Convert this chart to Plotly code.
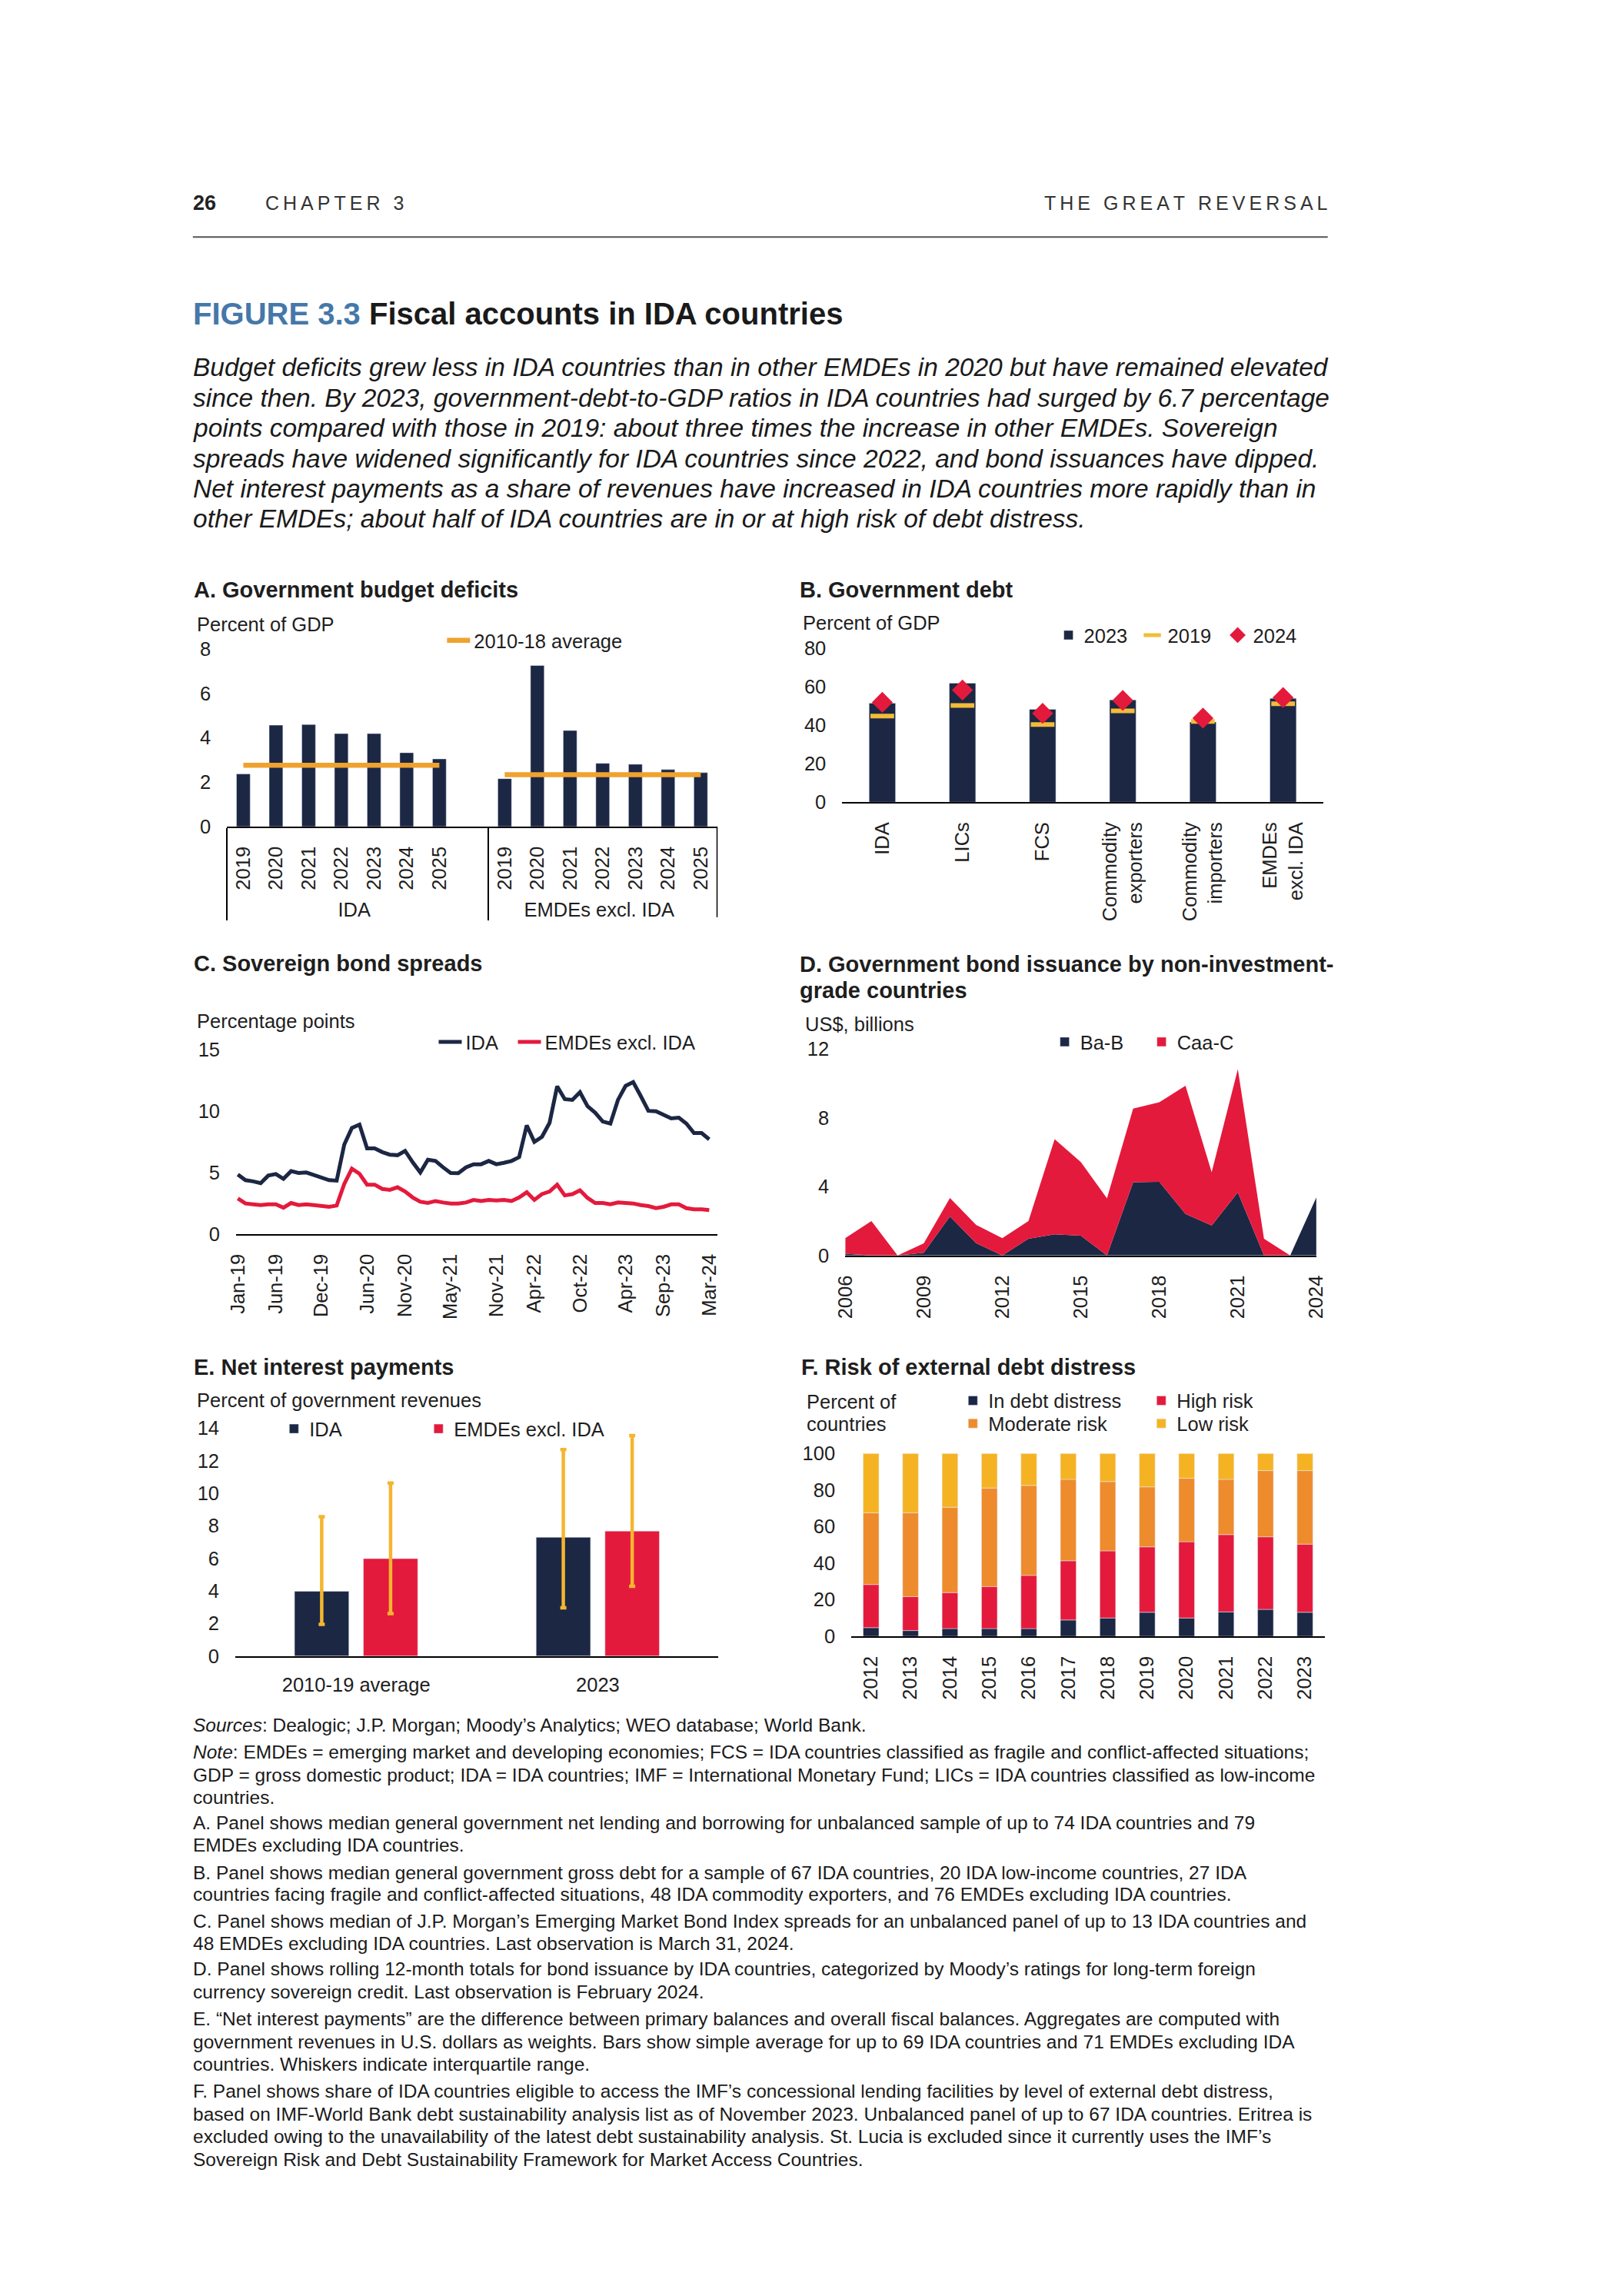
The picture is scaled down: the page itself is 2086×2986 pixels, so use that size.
import numpy as np
import pandas as pd
import plotly.graph_objects as go

W, H = 2086, 2986


def fx(x):
    return x / W


def fy(y):
    return 1 - y / H


FONT = "Liberation Sans, Arial, Helvetica, sans-serif"
TXT = "#1E1E1E"
NAVY = "#1C2744"
RED = "#E41A3C"
ORANGE = "#EE8B2D"
YELLOW = "#F5B324"
AVG = "#EFA22E"
DASH = "#F2BC3A"
WHISK = "#F4B530"
BLUE = "#4578A8"
FS = 25.5

# ---------------- Panel A: Government budget deficits ----------------
years_a = ["2019", "2020", "2021", "2022", "2023", "2024", "2025"]
groups_a = ["IDA", "EMDEs excl. IDA"]
deficit_ida = [2.37, 4.57, 4.60, 4.19, 4.19, 3.33, 3.05]
deficit_emde = [2.16, 7.26, 4.33, 2.85, 2.81, 2.57, 2.43]
avg_ida = 2.76
avg_emde = 2.34

# ---------------- Panel B: Government debt ----------------
cats_b = ["IDA", "LICs", "FCS", "Commodity<br>exporters", "Commodity<br>importers", "EMDEs<br>excl. IDA"]
debt_2023 = [51.5, 61.9, 48.3, 53.2, 41.7, 54.0]
debt_2019 = [44.8, 50.3, 40.4, 47.5, 42.0, 51.2]
debt_2024 = [51.9, 58.3, 46.2, 52.9, 43.7, 54.4]

# ---------------- Panel C: Sovereign bond spreads ----------------
months_c = list(pd.date_range("2019-01-01", periods=63, freq="MS").strftime("%b-%y"))
ticks_c = ["Jan-19", "Jun-19", "Dec-19", "Jun-20", "Nov-20", "May-21", "Nov-21",
           "Apr-22", "Oct-22", "Apr-23", "Sep-23", "Mar-24"]
spread_ida = [4.85, 4.39, 4.29, 4.14, 4.76, 4.89, 4.50, 5.12, 4.97, 5.01, 4.81, 4.60, 4.39,
              4.35, 7.29, 8.64, 8.91, 6.98, 6.98, 6.67, 6.46, 6.42, 6.77, 5.84, 5.01, 6.05,
              5.95, 5.43, 4.97, 4.95, 5.43, 5.68, 5.68, 5.95, 5.68, 5.80, 5.95, 6.26, 8.85,
              7.50, 7.91, 9.05, 12.02, 10.98, 10.92, 11.54, 10.40, 9.88, 9.16, 8.99, 10.92,
              12.06, 12.37, 11.23, 10.03, 9.99, 9.74, 9.41, 9.47, 8.99, 8.22, 8.22, 7.71]
spread_emde = [2.90, 2.49, 2.42, 2.36, 2.42, 2.42, 2.15, 2.53, 2.36, 2.42, 2.36, 2.28, 2.22,
               2.32, 4.08, 5.32, 4.91, 4.02, 4.02, 3.67, 3.60, 3.81, 3.46, 2.98, 2.63, 2.53,
               2.69, 2.57, 2.49, 2.49, 2.57, 2.78, 2.69, 2.78, 2.73, 2.78, 2.69, 2.98, 3.40,
               2.78, 3.25, 3.46, 4.02, 3.15, 3.25, 3.56, 2.94, 2.53, 2.53, 2.42, 2.57, 2.53,
               2.49, 2.36, 2.28, 2.11, 2.22, 2.42, 2.42, 2.11, 2.01, 2.01, 1.95]

# ---------------- Panel D: Bond issuance ----------------
years_d = list(range(2006, 2025))
issue_bab = [0.10, 0.0, 0.0, 0.15, 2.26, 0.71, 0.0, 0.97, 1.23, 1.15, 0.0, 4.25, 4.28,
             2.41, 1.74, 3.66, 0.0, 0.0, 3.37]
issue_caac = [0.90, 2.00, 0.0, 0.55, 1.08, 1.06, 1.00, 1.03, 5.53, 4.28, 3.32, 4.28, 4.62,
              7.45, 3.10, 7.16, 0.97, 0.0, 0.0]

# ---------------- Panel E: Net interest payments ----------------
cats_e = ["2010-19 average", "2023"]
nip_ida = [3.98, 7.30]
nip_ida_p25 = [1.95, 2.97]
nip_ida_p75 = [8.57, 12.69]
nip_emde = [5.99, 7.68]
nip_emde_p25 = [2.61, 4.29]
nip_emde_p75 = [10.64, 13.55]

# ---------------- Panel F: Risk of external debt distress ----------------
years_f = [str(y) for y in range(2012, 2024)]
risk_distress = [4.7, 3.1, 4.2, 4.2, 4.2, 8.9, 10.0, 13.1, 10.0, 13.3, 14.7, 13.1]
risk_high = [23.6, 18.6, 19.7, 23.0, 29.1, 32.4, 36.7, 35.8, 41.7, 42.3, 39.7, 37.3]
risk_moderate = [39.2, 45.8, 46.7, 53.9, 49.2, 44.5, 37.9, 32.8, 34.7, 30.2, 36.2, 40.2]
risk_low = [32.5, 32.5, 29.4, 18.9, 17.5, 14.2, 15.4, 18.3, 13.6, 14.2, 9.4, 9.4]

fig = go.Figure()

# ---- A ----
xa_groups = [groups_a[0]] * (len(years_a) + 1) + [groups_a[1]] * len(years_a)
xa_years = years_a + [" "] + years_a
ya = deficit_ida + [None] + deficit_emde
fig.add_trace(go.Bar(x=[xa_groups, xa_years], y=ya, marker_color=NAVY, width=0.42,
                     xaxis="x", yaxis="y", showlegend=False, hoverinfo="skip"))
fig.add_trace(go.Scatter(x=[[groups_a[0]] * 2, [years_a[0], years_a[-1]]], y=[avg_ida, avg_ida],
                         mode="lines", line=dict(color=AVG, width=6.5), name="2010-18 average",
                         xaxis="x", yaxis="y", legend="legend"))
fig.add_trace(go.Scatter(x=[[groups_a[1]] * 2, [years_a[0], years_a[-1]]], y=[avg_emde, avg_emde],
                         mode="lines", line=dict(color=AVG, width=6.5), showlegend=False,
                         xaxis="x", yaxis="y"))

# ---- B ----
fig.add_trace(go.Bar(x=cats_b, y=debt_2023, width=0.33, marker_color=NAVY, name="2023",
                     xaxis="x2", yaxis="y2", legend="legend2", legendwidth=64))
fig.add_trace(go.Scatter(x=cats_b, y=debt_2019, mode="markers", name="2019",
                         marker=dict(symbol="line-ew", size=22, color=DASH,
                                     line=dict(width=6, color=DASH)),
                         xaxis="x2", yaxis="y2", legend="legend2", legendwidth=66))
fig.add_trace(go.Scatter(x=cats_b, y=debt_2024, mode="markers", name="2024",
                         marker=dict(symbol="diamond", size=21, color=RED, line=dict(width=0)),
                         xaxis="x2", yaxis="y2", legend="legend2", legendwidth=64))

# ---- C ----
fig.add_trace(go.Scatter(x=months_c, y=spread_ida, mode="lines", name="IDA",
                         line=dict(color=NAVY, width=5), xaxis="x3", yaxis="y3",
                         legend="legend3", legendwidth=58))
fig.add_trace(go.Scatter(x=months_c, y=spread_emde, mode="lines", name="EMDEs excl. IDA",
                         line=dict(color=RED, width=5), xaxis="x3", yaxis="y3",
                         legend="legend3", legendwidth=230))

# ---- D ----
fig.add_trace(go.Scatter(x=years_d, y=issue_bab, stackgroup="d", mode="none", fillcolor=NAVY,
                         name="Ba-B", showlegend=False, xaxis="x4", yaxis="y4"))
fig.add_trace(go.Scatter(x=years_d, y=issue_caac, stackgroup="d", mode="none", fillcolor=RED,
                         name="Caa-C", showlegend=False, xaxis="x4", yaxis="y4"))
# legend swatches (square) for the area series
fig.add_trace(go.Bar(x=[None], y=[None], marker_color=NAVY, name="Ba-B",
                     xaxis="x4", yaxis="y4", legend="legend4", legendwidth=81))
fig.add_trace(go.Bar(x=[None], y=[None], marker_color=RED, name="Caa-C",
                     xaxis="x4", yaxis="y4", legend="legend4", legendwidth=100))


# ---- E ----
def whisk(mid, lo, hi):
    mid, lo, hi = np.array(mid), np.array(lo), np.array(hi)
    return dict(type="data", symmetric=False, array=list(hi - mid), arrayminus=list(mid - lo),
                color=WHISK, thickness=4.5, width=4)


fig.add_trace(go.Bar(x=cats_e, y=nip_ida, width=0.225, offset=-0.255, marker_color=NAVY,
                     error_y=whisk(nip_ida, nip_ida_p25, nip_ida_p75), name="IDA",
                     xaxis="x5", yaxis="y5", legend="legend5", legendwidth=143))
fig.add_trace(go.Bar(x=cats_e, y=nip_emde, width=0.225, offset=0.03, marker_color=RED,
                     error_y=whisk(nip_emde, nip_emde_p25, nip_emde_p75), name="EMDEs excl. IDA",
                     xaxis="x5", yaxis="y5", legend="legend5", legendwidth=230))

# ---- F ----
f_series = [("In debt distress", risk_distress, NAVY, "legend6", 200),
            ("High risk", risk_high, RED, "legend6", 130),
            ("Moderate risk", risk_moderate, ORANGE, "legend7", 200),
            ("Low risk", risk_low, YELLOW, "legend7", 130)]
base = np.zeros(len(years_f))
for name, vals, col, lg, lw in f_series:
    fig.add_trace(go.Bar(x=years_f, y=vals, base=list(base), width=0.4, marker_color=col,
                         name=name, xaxis="x6", yaxis="y6", legend=lg, legendwidth=lw))
    base = base + np.array(vals)

# ---------------- axes ----------------
tickfont = dict(family=FONT, size=FS, color=TXT)


def xax(x0, x1, anchor, **kw):
    d = dict(domain=[fx(x0), fx(x1)], anchor=anchor, showline=True, linecolor="black",
             linewidth=1.5, ticks="", showgrid=False, zeroline=False, tickfont=tickfont,
             ticklabelstandoff=14, fixedrange=True)
    d.update(kw)
    return d


def yax(y_top, y_bot, anchor, rng, dtick):
    return dict(domain=[fy(y_bot), fy(y_top)], anchor=anchor, range=rng, dtick=dtick,
                showline=False, ticks="", showgrid=False, zeroline=False, tickfont=tickfont,
                ticklabelstandoff=20, fixedrange=True)


layout = dict(
    width=W, height=H, autosize=False,
    margin=dict(l=0, r=0, t=0, b=0, pad=0),
    paper_bgcolor="white", plot_bgcolor="white",
    barmode="overlay",
    font=dict(family=FONT, size=FS, color=TXT),
    xaxis=xax(284, 930, "y", type="multicategory", tickangle=-90,
              showdividers=True, dividercolor="black", dividerwidth=1.5),
    yaxis=yax(838, 1071, "x", [0, 8], 2),
    xaxis2=xax(1095, 1729, "y2", type="category", tickangle=-90),
    yaxis2=yax(837, 1039, "x2", [0, 80], 20),
    xaxis3=xax(296, 930, "y3", type="category", tickangle=-90,
               tickmode="array", tickvals=ticks_c, ticktext=ticks_c,
               range=[-0.23, len(months_c) - 1 + 1.03]),
    yaxis3=yax(1364, 1606, "x3", [0, 15], 5),
    xaxis4=xax(1099, 1720, "y4", type="linear", tickangle=-90,
               tickmode="array", tickvals=years_d[::3], ticktext=[str(y) for y in years_d[::3]],
               range=[years_d[0], years_d[-1]]),
    yaxis4=yax(1363, 1634, "x4", [0, 12], 4),
    xaxis5=xax(295, 932, "y5", type="category", tickangle=0, range=[-0.5, 1.5]),
    yaxis5=yax(1861, 2160, "x5", [0, 14], 2),
    xaxis6=xax(1107, 1731, "y6", type="category", tickangle=-90, range=[-0.5, 11.5]),
    yaxis6=yax(1894, 2134, "x6", [0, 100], 20),
)


def leg(x_text, y):
    return dict(orientation="h", x=fx(x_text - 40), y=fy(y), xanchor="left", yanchor="middle",
                font=dict(family=FONT, size=FS, color=TXT), bgcolor="rgba(0,0,0,0)",
                borderwidth=0, itemwidth=30, tracegroupgap=0, traceorder="normal",
                itemclick=False, itemdoubleclick=False, entrywidthmode="pixels")


layout["legend"] = leg(609, 827)
layout["legend2"] = leg(1413, 820)
layout["legend3"] = leg(598, 1354)
layout["legend4"] = leg(1408, 1354)
layout["legend5"] = leg(392, 1862)
layout["legend6"] = leg(1287, 1825)
layout["legend7"] = leg(1287, 1855)

fig.update_layout(**layout)

# ---------------- text ----------------
anns = []


def ann(text, x, y, size=FS, xanchor="left", color=TXT):
    anns.append(dict(text=text, x=fx(x), y=fy(y), xref="paper", yref="paper",
                     xanchor=xanchor, yanchor="middle", showarrow=False, align="left",
                     font=dict(family=FONT, size=size, color=color)))


def track(s):
    return "\u2009".join(s)


# header
ann("<b>26</b>", 237, 252, size=27, color="#222222")
ann(track("CHAPTER 3"), 332, 252, size=25, color="#333333")
ann(track("THE GREAT REVERSAL"), 1737, 252, size=25, xanchor="right", color="#333333")
ann("<b><span style='color:%s'>FIGURE 3.3</span> Fiscal accounts in IDA countries</b>" % BLUE,
    237, 398, size=40, color="#1A1A1A")

para = [
    "Budget deficits grew less in IDA countries than in other EMDEs in 2020 but have remained elevated",
    "since then. By 2023, government-debt-to-GDP ratios in IDA countries had surged by 6.7 percentage",
    "points compared with those in 2019: about three times the increase in other EMDEs. Sovereign",
    "spreads have widened significantly for IDA countries since 2022, and bond issuances have dipped.",
    "Net interest payments as a share of revenues have increased in IDA countries more rapidly than in",
    "other EMDEs; about half of IDA countries are in or at high risk of debt distress.",
]
para_y = [468, 508, 548, 588, 627, 667]
for t, yy in zip(para, para_y):
    ann("<i>" + t + "</i>", 237, yy, size=33.5, color="#1A1A1A")

# panel titles and axis titles
TS = 29
ann("<b>A. Government budget deficits</b>", 238, 760, size=TS)
ann("Percent of GDP", 242, 806)
ann("<b>B. Government debt</b>", 1037, 760, size=TS)
ann("Percent of GDP", 1041, 804)
ann("<b>C. Sovereign bond spreads</b>", 238, 1251, size=TS)
ann("Percentage points", 242, 1326)
ann("<b>D. Government bond issuance by non-investment-</b>", 1037, 1252, size=TS)
ann("<b>grade countries</b>", 1037, 1286, size=TS)
ann("US$, billions", 1044, 1330)
ann("<b>E. Net interest payments</b>", 238, 1781, size=TS)
ann("Percent of government revenues", 242, 1824)
ann("<b>F. Risk of external debt distress</b>", 1039, 1781, size=TS)
ann("Percent of", 1046, 1826)
ann("countries", 1046, 1855)

# notes
NS = 24.5
notes = [
    ("<i>Sources</i>: Dealogic; J.P. Morgan; Moody’s Analytics; WEO database; World Bank.", 2251),
    ("<i>Note</i>: EMDEs = emerging market and developing economies; FCS = IDA countries classified as fragile and conflict-affected situations;", 2286),
    ("GDP = gross domestic product; IDA = IDA countries; IMF = International Monetary Fund; LICs = IDA countries classified as low-income", 2316),
    ("countries.", 2345),
    ("A. Panel shows median general government net lending and borrowing for unbalanced sample of up to 74 IDA countries and 79", 2379),
    ("EMDEs excluding IDA countries.", 2408),
    ("B. Panel shows median general government gross debt for a sample of 67 IDA countries, 20 IDA low-income countries, 27 IDA", 2444),
    ("countries facing fragile and conflict-affected situations, 48 IDA commodity exporters, and 76 EMDEs excluding IDA countries.", 2473),
    ("C. Panel shows median of J.P. Morgan’s Emerging Market Bond Index spreads for an unbalanced panel of up to 13 IDA countries and", 2508),
    ("48 EMDEs excluding IDA countries. Last observation is March 31, 2024.", 2537),
    ("D. Panel shows rolling 12-month totals for bond issuance by IDA countries, categorized by Moody’s ratings for long-term foreign", 2571),
    ("currency sovereign credit. Last observation is February 2024.", 2601),
    ("E. “Net interest payments” are the difference between primary balances and overall fiscal balances. Aggregates are computed with", 2636),
    ("government revenues in U.S. dollars as weights. Bars show simple average for up to 69 IDA countries and 71 EMDEs excluding IDA", 2666),
    ("countries. Whiskers indicate interquartile range.", 2696),
    ("F. Panel shows share of IDA countries eligible to access the IMF’s concessional lending facilities by level of external debt distress,", 2731),
    ("based on IMF-World Bank debt sustainability analysis list as of November 2023. Unbalanced panel of up to 67 IDA countries. Eritrea is", 2761),
    ("excluded owing to the unavailability of the latest debt sustainability analysis. St. Lucia is excluded since it currently uses the IMF’s", 2791),
    ("Sovereign Risk and Debt Sustainability Framework for Market Access Countries.", 2821),
]
for t, yy in notes:
    ann(t, 237, yy, size=NS, color="#1A1A1A")

fig.update_layout(annotations=anns)

# header rule
fig.add_shape(type="line", xref="paper", yref="paper", x0=fx(239), x1=fx(1735),
              y0=fy(297), y1=fy(297), line=dict(color="#555555", width=2))
# right edge of the panel A category box
fig.add_shape(type="line", xref="paper", yref="paper", x0=fx(930), x1=fx(930),
              y0=fy(1071), y1=fy(1190), line=dict(color="black", width=1.5))

fig.write_html("out.html", config={"displayModeBar": False},
               post_script="document.body.style.margin='0';document.body.style.overflow='hidden';")
